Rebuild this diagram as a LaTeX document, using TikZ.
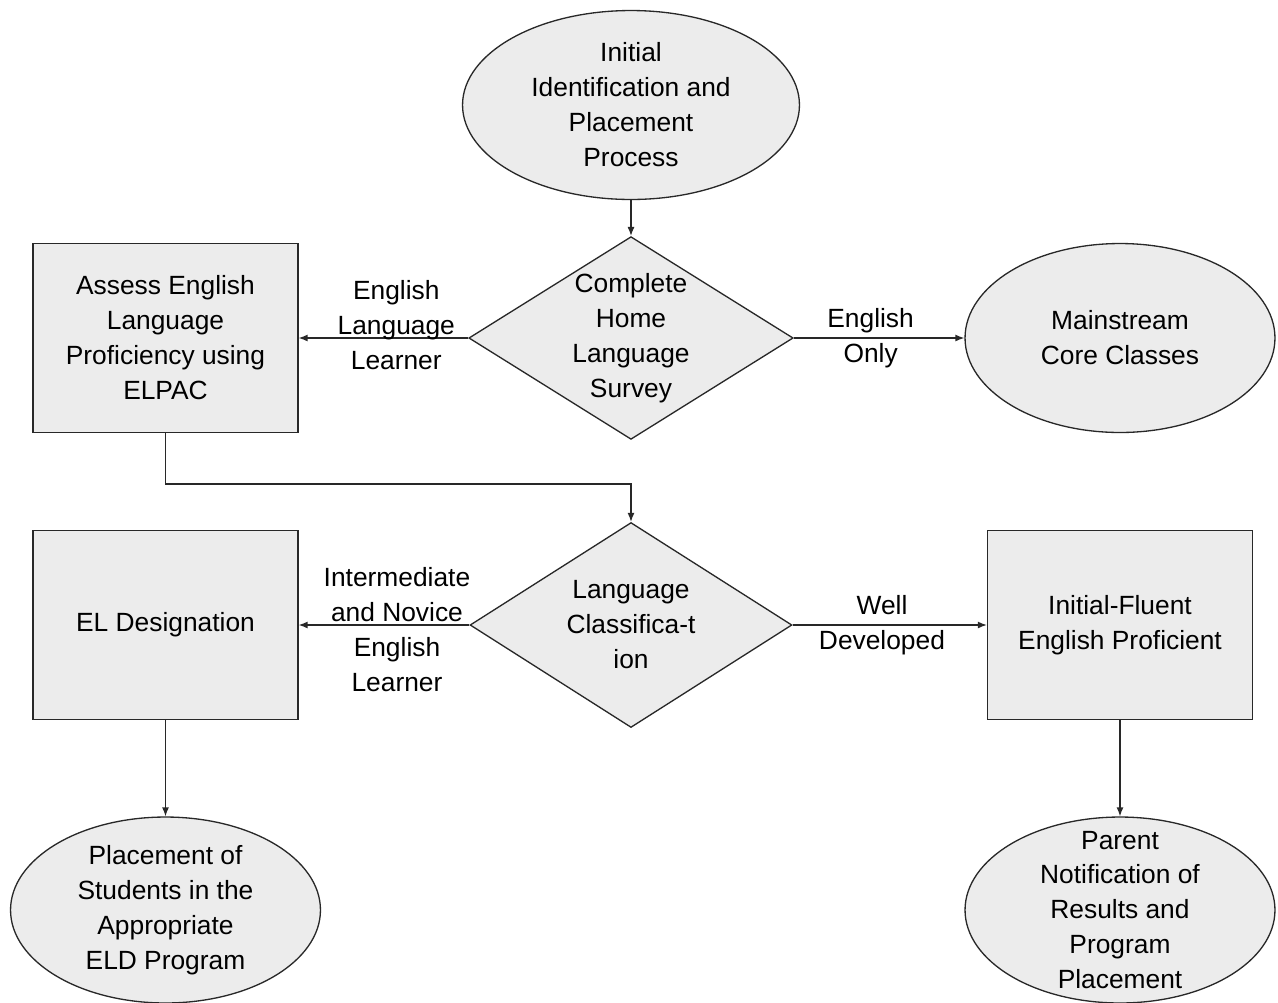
\documentclass[tikz,border=0pt]{standalone}
\usepackage{fontspec}
\setmainfont{Liberation Sans}
\usetikzlibrary{shapes.geometric,arrows.meta}

\definecolor{shapefill}{RGB}{236,236,236}
\definecolor{edgeline}{RGB}{40,40,40}

\tikzset{
  every node/.style={font=\fontsize{15}{19.9}\selectfont, align=center, inner sep=0pt},
  endoval/.style={ellipse, draw=edgeline, fill=shapefill, line width=0.75pt, minimum height=3.78cm},
  procbox/.style={rectangle, draw=edgeline, fill=shapefill, line width=0.75pt, minimum width=5.3cm, minimum height=3.78cm},
  choice/.style={diamond, aspect=1.6, draw=edgeline, fill=shapefill, line width=0.75pt, minimum width=6.44cm},
  link/.style={draw=edgeline, line width=0.75pt, -{Latex[length=1.8mm,width=1.4mm]}}
}

\begin{document}
\begin{tikzpicture}[x=0.02cm,y=-0.02cm]
  \useasboundingbox (0,0) rectangle (1278,1002);

  % shapes
  \node[endoval, minimum width=6.74cm] (start) at (631,105) {Initial\\Identification and\\Placement\\Process};
  \node[choice, minimum height=4.02cm] (survey) at (631,338) {Complete\\Home\\Language\\Survey};
  \node[procbox] (assess) at (165.5,338) {Assess English\\Language\\Proficiency using\\ELPAC};
  \node[endoval, minimum width=6.2cm] (mainstream) at (1120,338) {Mainstream\\Core Classes};

  \node[choice, minimum height=4.1cm] (classify) at (631,625) {Language\\Classifica-t\\ion};
  \node[procbox] (eldesig) at (165.5,625) {EL Designation};
  \node[procbox] (ifep) at (1120,625) {Initial-Fluent\\English Proficient};

  \node[endoval, minimum width=6.2cm, minimum height=3.72cm] (eldplace) at (165.5,910) {Placement of\\Students in the\\Appropriate\\ELD Program};
  \node[endoval, minimum width=6.2cm, minimum height=3.72cm, inner ysep=-10pt] (notify) at (1120,910) {Parent\\Notification of\\Results and\\Program\\Placement};

  % connectors
  \draw[link] (start) -- (survey);
  \draw[link] (survey.west) -- (assess.east) node[pos=0.424, yshift=0.26cm] {English\\Language\\Learner};
  \draw[link] (survey.east) -- (mainstream.west) node[pos=0.45] {English\\Only};
  \draw[link] (assess.south) -- ++(0,51) -| (classify.north);
  \draw[link] (classify.west) -- (eldesig.east) node[pos=0.424, yshift=-0.09cm] {Intermediate\\and Novice\\English\\Learner};
  \draw[link] (classify.east) -- (ifep.west) node[pos=0.46] {Well\\Developed};
  \draw[link] (eldesig) -- (eldplace);
  \draw[link] (ifep) -- (notify);
\end{tikzpicture}
\end{document}
